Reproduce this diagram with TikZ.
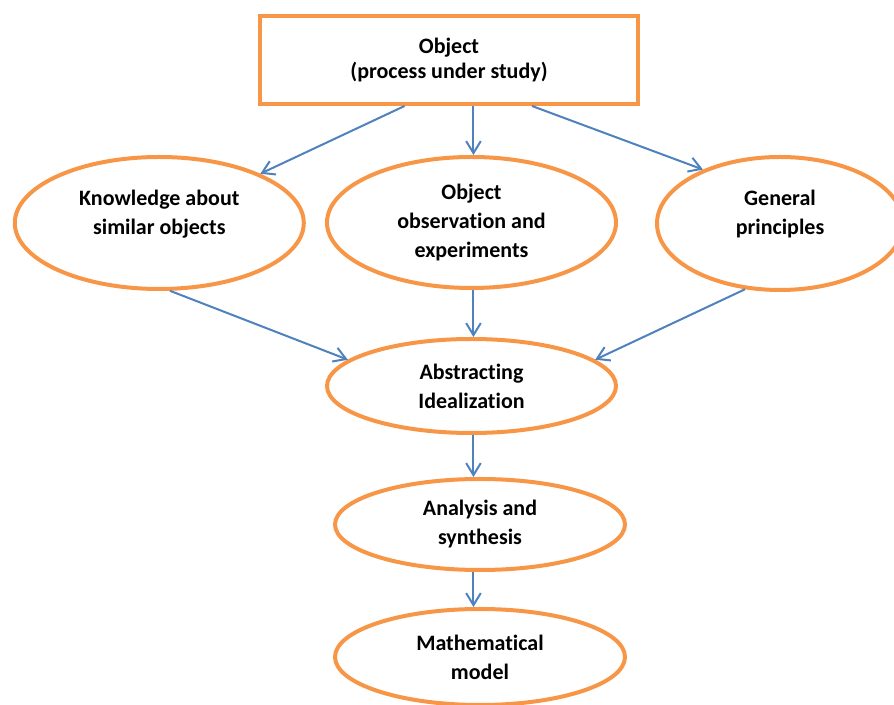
\documentclass[tikz,border=0pt]{standalone}
\usepackage{fontspec}
\setmainfont{Carlito}[Ligatures=NoCommon]
\usetikzlibrary{shapes.geometric,arrows.meta}
\definecolor{boxorange}{HTML}{F79646}
\definecolor{arrowblue}{HTML}{4F81BD}
\begin{document}
\begin{tikzpicture}[x=0.75pt, y=-0.75pt, >={Straight Barb[length=9pt,width=11pt]},
    every node/.style={font=\bfseries\fontsize{16.5}{21.75}\selectfont, align=center, inner sep=0pt},
    box/.style={draw=boxorange, line width=3pt, rectangle, minimum width=283.5pt, minimum height=66pt},
    bubble/.style={draw=boxorange, line width=3pt, ellipse},
    link/.style={->, draw=arrowblue, line width=1.5pt}]
    \useasboundingbox (0, 0) rectangle (894, 705);

    \node[box] (obj) at (449, 60) {Object\\[-3pt](process under study)};

    \node[bubble, minimum width=216.75pt, minimum height=99pt] (know) at (159.3, 223)
      {Knowledge about\\similar objects\\[-5.5pt]\mbox{}};
    \node[bubble, minimum width=216.75pt, minimum height=98.25pt] (observ) at (471.5, 222.5)
      {Object\\observation and\\experiments};
    \node[bubble, minimum width=184.5pt, minimum height=99.75pt] (princ) at (780, 223.5)
      {General\\principles\\[-5.5pt]\mbox{}};

    \node[bubble, minimum width=216.75pt, minimum height=70.5pt] (abstr) at (471.5, 386)
      {Abstracting\\Idealization};
    \node[bubble, minimum width=217.5pt, minimum height=68.25pt] (anal) at (480, 524.5)
      {Analysis and\\synthesis};
    \node[bubble, minimum width=217.5pt, minimum height=72pt] (model) at (480, 657)
      {Mathematical\\model};

    \draw[link] (obj.226) -- (know.26);
    \draw[link] (obj.298) -- (obj.298 |- observ.north);
    \draw[link] (obj.331) -- (princ.145);

    \draw[link] (know.279) -- (abstr.168);
    \draw[link] (observ.south -| obj.298) -- (abstr.north -| obj.298);
    \draw[link] (princ.242) -- (abstr.12);

    \draw[link] (abstr.south -| obj.298) -- (anal.north -| obj.298);
    \draw[link] (anal.south -| obj.298) -- (model.north -| obj.298);
  \end{tikzpicture}
\end{document}
